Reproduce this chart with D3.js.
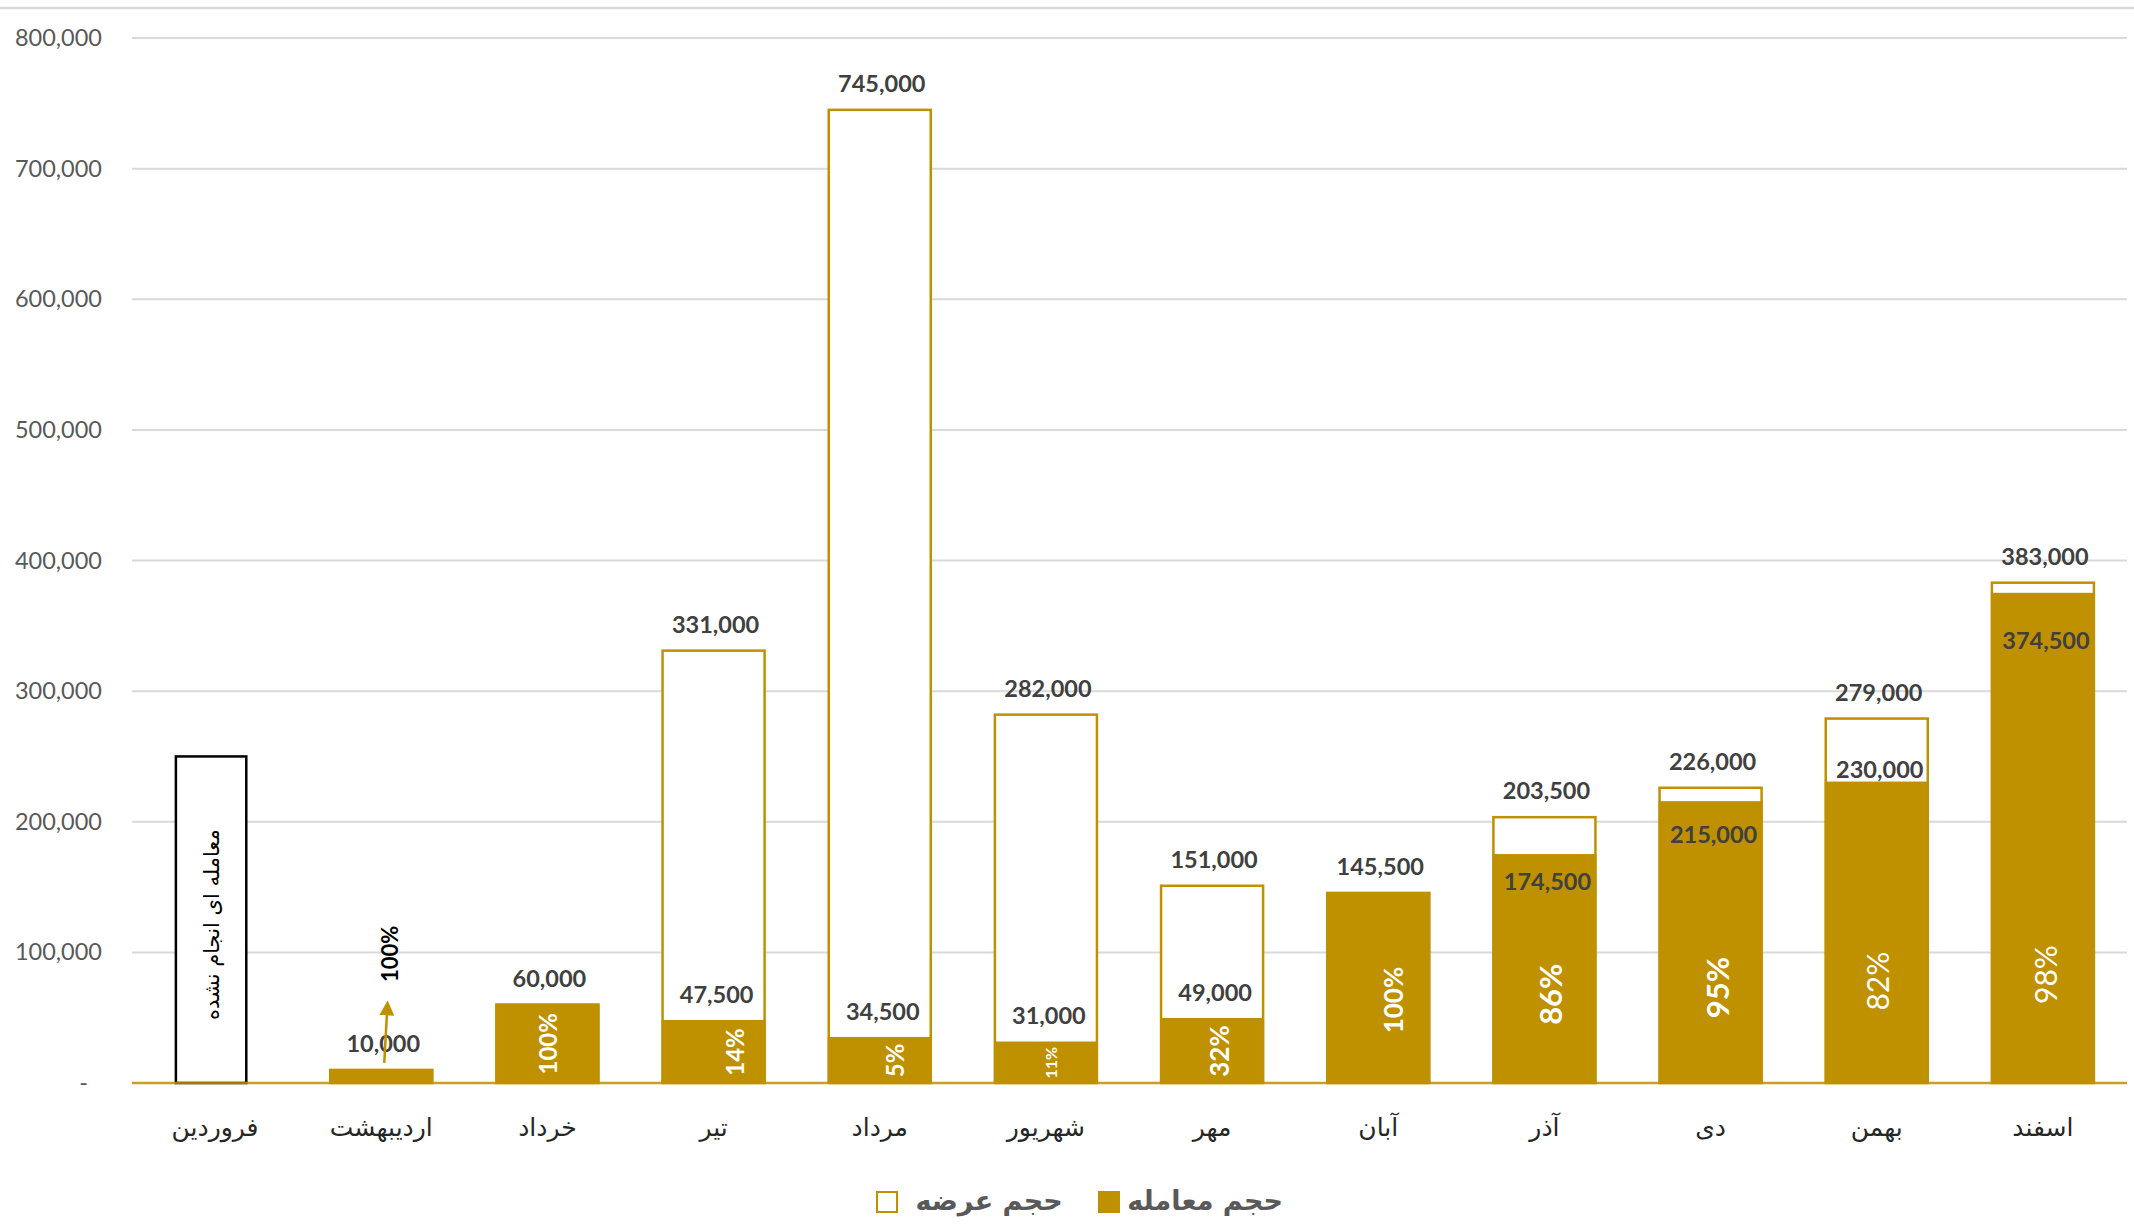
<!DOCTYPE html>
<html><head><meta charset="utf-8">
<script src="https://cdn.jsdelivr.net/npm/d3@7"></script>
<style>
html,body{margin:0;padding:0;background:#fff;}
svg{display:block;}
</style></head>
<body>
<svg id="chart" width="2134" height="1224"></svg>
<script>
// ---------- data ----------
const months = ['فروردین','اردیبهشت','خرداد','تیر','مرداد','شهریور','مهر','آبان','آذر','دی','بهمن','اسفند'];
const offerVolume = [null, 10000, 60000, 331000, 745000, 282000, 151000, 145500, 203500, 226000, 279000, 383000];
const dealVolume  = [null, 10000, 60000, 47500, 34500, 31000, 49000, 145500, 174500, 215000, 230000, 374500];
const dealShare   = [null, '100%', '100%', '14%', '5%', '11%', '32%', '100%', '86%', '95%', '82%', '98%'];
const yTicks = [0, 100000, 200000, 300000, 400000, 500000, 600000, 700000, 800000];
const noDealNote = 'معامله ای انجام نشده';
const noDealBoxValue = 250000;
const legendLabels = ['حجم عرضه', 'حجم معامله'];

// ---------- layout / style (not data) ----------
const GOLD = '#BF9000';
const dealLabelDy = [0, 0, 0, -27, -27, -28, -27, 0, 26, 32, -14, 46];
const pctAnchorValue = [null, null, null, null, null, null, null, 63500, 68000, 73000, 78000, 83000];
const pctDx = [0, 0, 0, 21, 15, 5, 7, 15, 6, 6, 0, 2];
const pctSize = [0, 22, 24, 24, 24, 16, 26, 26, 31, 31, 30, 30];
const pctWeight = [0, 700, 700, 700, 700, 700, 700, 700, 700, 700, 400, 400];

const svg = d3.select('#chart');
svg.append('rect').attr('width', 2134).attr('height', 1224).attr('fill', '#fff');

const x = d3.scaleBand().domain(months).range([132, 2126]).paddingInner(0.386).paddingOuter(0.193);
const y = d3.scaleLinear().domain([0, 800000]).range([1083, 38]);
const bw = x.bandwidth();
const numFont = 'Lato, "Open Sans", sans-serif';
const faFont = '"DejaVu Sans", sans-serif';

// top border
svg.append('line').attr('x1', 0).attr('x2', 2134).attr('y1', 8).attr('y2', 8)
  .attr('stroke', '#D9D9D9').attr('stroke-width', 2.5);

// gridlines
svg.append('g').selectAll('line').data(yTicks.filter(d => d > 0)).join('line')
  .attr('x1', 132).attr('x2', 2127)
  .attr('y1', d => y(d)).attr('y2', d => y(d))
  .attr('stroke', '#D9D9D9').attr('stroke-width', 2);

// y axis
const yAxis = d3.axisLeft(y).tickValues(yTicks).tickSize(0).tickPadding(30)
  .tickFormat(d => d === 0 ? '-' : d3.format(',')(d));
const ya = svg.append('g').attr('transform', 'translate(132,0)').call(yAxis);
ya.select('.domain').remove();
ya.selectAll('text').attr('font-family', numFont).attr('font-size', 23.5).attr('fill', '#595959');
ya.selectAll('.tick').filter(d => d === 0).select('text').attr('dx', -14);

// offer bars (white with gold outline)
const idx = d3.range(months.length);
svg.append('g').selectAll('rect').data(idx.filter(i => offerVolume[i] != null)).join('rect')
  .attr('x', i => x(months[i])).attr('width', bw)
  .attr('y', i => y(offerVolume[i])).attr('height', i => y(0) - y(offerVolume[i]))
  .attr('fill', '#fff').attr('stroke', GOLD).attr('stroke-width', 2.5);

// deal bars (filled gold)
svg.append('g').selectAll('rect').data(idx.filter(i => dealVolume[i] != null)).join('rect')
  .attr('x', i => x(months[i]) - 1).attr('width', bw + 2)
  .attr('y', i => y(dealVolume[i]) - 1).attr('height', i => y(0) - y(dealVolume[i]) + 1)
  .attr('fill', GOLD);

// no-deal placeholder box
const boxW = bw * 0.69;
const bx = x(months[0]) + (bw - boxW) / 2 - 4;
svg.append('rect').attr('x', bx).attr('width', boxW)
  .attr('y', y(noDealBoxValue)).attr('height', y(0) - y(noDealBoxValue))
  .attr('fill', '#fff').attr('stroke', '#000').attr('stroke-width', 2.5);
svg.append('text')
  .attr('transform', `translate(${bx + boxW / 2 + 1},${(y(noDealBoxValue) + y(0)) / 2 + 5}) rotate(-90)`)
  .attr('text-anchor', 'middle').attr('dominant-baseline', 'central')
  .attr('font-family', faFont).attr('font-weight', 400).attr('font-size', 21).attr('fill', '#000')
  .text(noDealNote);

// baseline
svg.append('line').attr('x1', 132).attr('x2', 2127).attr('y1', y(0)).attr('y2', y(0))
  .attr('stroke', GOLD).attr('stroke-width', 2.5).attr('opacity', 0.85);

// offer labels
svg.append('g').selectAll('text').data(idx.filter(i => offerVolume[i] != null)).join('text')
  .attr('x', i => x(months[i]) + bw / 2 + 2)
  .attr('y', i => y(offerVolume[i]) - 27)
  .attr('text-anchor', 'middle').attr('dominant-baseline', 'central')
  .attr('font-family', numFont).attr('font-weight', 700).attr('font-size', 23.5).attr('fill', '#404040')
  .text(i => d3.format(',')(offerVolume[i]));

// deal labels (only where deal differs from offer)
svg.append('g').selectAll('text').data(idx.filter(i => dealVolume[i] != null && dealVolume[i] !== offerVolume[i])).join('text')
  .attr('x', i => x(months[i]) + bw / 2 + 3)
  .attr('y', i => y(dealVolume[i]) + dealLabelDy[i])
  .attr('text-anchor', 'middle').attr('dominant-baseline', 'central')
  .attr('font-family', numFont).attr('font-weight', 700).attr('font-size', 23.5).attr('fill', '#404040')
  .text(i => d3.format(',')(dealVolume[i]));

// share labels inside bars
svg.append('g').selectAll('text').data(idx.filter(i => i >= 2 && dealShare[i])).join('text')
  .attr('transform', i => {
    const cy = pctAnchorValue[i] != null ? y(pctAnchorValue[i]) : (y(dealVolume[i]) + y(0)) / 2;
    return `translate(${x(months[i]) + bw / 2 + pctDx[i]},${cy}) rotate(-90)`;
  })
  .attr('text-anchor', 'middle').attr('dominant-baseline', 'central')
  .attr('font-family', numFont).attr('font-weight', i => pctWeight[i]).attr('font-size', i => pctSize[i])
  .attr('fill', '#fff')
  .text(i => dealShare[i]);

// Ordibehesht: arrow + label above
const cx1 = x(months[1]) + bw / 2;
svg.append('defs').append('marker').attr('id', 'ah')
  .attr('viewBox', '0 0 10 10').attr('refX', 5).attr('refY', 5)
  .attr('markerWidth', 6).attr('markerHeight', 6).attr('markerUnits', 'strokeWidth').attr('orient', 'auto')
  .append('path').attr('d', 'M0,0 L10,5 L0,10 z').attr('fill', GOLD);
svg.append('line')
  .attr('x1', cx1 + 3).attr('y1', y(dealVolume[1]) - 7)
  .attr('x2', cx1 + 6).attr('y2', y(dealVolume[1]) - 62)
  .attr('stroke', GOLD).attr('stroke-width', 2.5).attr('marker-end', 'url(#ah)');
svg.append('text')
  .attr('transform', `translate(${cx1 + 8},${y(dealVolume[1]) - 116}) rotate(-90)`)
  .attr('text-anchor', 'middle').attr('dominant-baseline', 'central')
  .attr('font-family', numFont).attr('font-weight', 700).attr('font-size', pctSize[1]).attr('fill', '#000')
  .text(dealShare[1]);

// category labels
svg.append('g').selectAll('text').data(months).join('text')
  .attr('x', d => x(d) + bw / 2).attr('y', 1127)
  .attr('text-anchor', 'middle').attr('dominant-baseline', 'central')
  .attr('font-family', faFont).attr('font-size', 25).attr('fill', '#262626')
  .text(d => d);

// legend
const lg = svg.append('g');
lg.append('rect').attr('x', 877).attr('y', 1192).attr('width', 20).attr('height', 20)
  .attr('fill', '#fff').attr('stroke', GOLD).attr('stroke-width', 2);
lg.append('text').attr('x', 989).attr('y', 1200).attr('text-anchor', 'middle').attr('dominant-baseline', 'central')
  .attr('font-family', faFont).attr('font-weight', 700).attr('font-size', 27).attr('fill', '#595959')
  .text(legendLabels[0]);
lg.append('rect').attr('x', 1098).attr('y', 1191).attr('width', 22).attr('height', 22).attr('fill', GOLD);
lg.append('text').attr('x', 1205).attr('y', 1200).attr('text-anchor', 'middle').attr('dominant-baseline', 'central')
  .attr('font-family', faFont).attr('font-weight', 700).attr('font-size', 27).attr('fill', '#595959')
  .text(legendLabels[1]);
</script>
</body></html>
